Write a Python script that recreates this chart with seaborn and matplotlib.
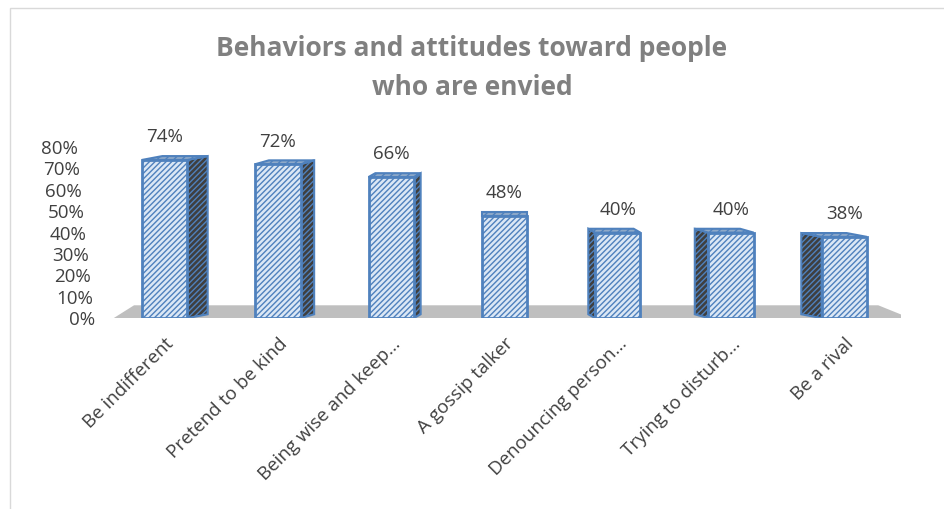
import matplotlib
matplotlib.use("Agg")
import matplotlib.pyplot as plt
import matplotlib.transforms as mtransforms
from matplotlib.patches import Polygon, Rectangle
import seaborn as sns
import pandas as pd

# data
categories = ['Be indifferent', 'Pretend to be kind', 'Being wise and keep…',
              'A gossip talker', 'Denouncing person…', 'Trying to disturb…', 'Be a rival']
shares = [0.74, 0.72, 0.66, 0.48, 0.40, 0.40, 0.38]
yticks = [0, 0.1, 0.2, 0.3, 0.4, 0.5, 0.6, 0.7, 0.8]
ytick_labels = ['0%', '10%', '20%', '30%', '40%', '50%', '60%', '70%', '80%']

df = pd.DataFrame({'behavior': categories, 'share': shares})

sns.set_style('white')
plt.rcParams['font.family'] = ['Open Sans', 'DejaVu Sans']
plt.rcParams['hatch.linewidth'] = 1.0

edge = '#4f81bd'
front = '#dbe7f5'
side = '#3f3f3f'

fig = plt.figure(figsize=(9.44, 5.09), dpi=100)
# light frame around the chart area
fig.patches.append(Rectangle((0.011, -0.05), 1.2, 1.034, transform=fig.transFigure,
                             fill=False, edgecolor='#d9d9d9', linewidth=1.0))
ax = fig.add_axes([0.1144, 0.375, 0.840, 0.336])

# floor of the 3d look
floor = Polygon([(-0.45, 0), (-0.27, 0.06), (6.3, 0.06), (6.58, 0)], closed=True,
                facecolor='#bfbfbf', edgecolor='none', zorder=0)
ax.add_patch(floor)

sns.barplot(data=df, x='behavior', y='share', color=front, width=0.4,
            saturation=1, ax=ax, zorder=3)

bars = [p for p in ax.patches if isinstance(p, Rectangle)]
mid = (len(shares) - 1) / 2
for i, p in enumerate(bars):
    p.set_hatch('//////')
    p.set_edgecolor(edge)
    p.set_linewidth(2)
    x0 = p.get_x()
    x1 = x0 + p.get_width()
    h = p.get_height()
    dx = 0.06 * (mid - i)
    dy = 0.018
    # side face
    if dx > 0:
        pts = [(x1, 0), (x1 + dx, dy), (x1 + dx, h + dy), (x1, h)]
    elif dx < 0:
        pts = [(x0, 0), (x0 + dx, dy), (x0 + dx, h + dy), (x0, h)]
    else:
        pts = None
    if pts is not None:
        ax.add_patch(Polygon(pts, closed=True, facecolor=side, edgecolor=edge,
                             hatch='//////', linewidth=1.5, zorder=2))
    # top face
    top = [(x0, h), (x1, h), (x1 + dx, h + dy), (x0 + dx, h + dy)]
    ax.add_patch(Polygon(top, closed=True, facecolor='#8ea9c9', edgecolor=edge,
                         hatch='////', linewidth=1.5, zorder=2))
    ax.annotate(f'{int(round(h * 100))}%', (x0 + p.get_width() / 2, h + dy),
                xytext=(0, 7), textcoords='offset points', ha='center', va='bottom',
                fontsize=13.5, color='#404040', annotation_clip=False)

ax.set_xlim(-0.5, 6.5)
ax.set_ylim(0, 0.8)
ax.set_yticks(yticks)
ax.set_yticklabels(ytick_labels, fontsize=13.5, color='#404040')
ax.set_xlabel('')
ax.set_ylabel('')
ax.tick_params(axis='both', length=0)
ax.tick_params(axis='y', pad=9)
ax.tick_params(axis='x', pad=12)
plt.setp(ax.get_xticklabels(), rotation=45, ha='right', rotation_mode='anchor',
         fontsize=13.5, color='#404040')
sns.despine(ax=ax, left=True, bottom=True)
ax.patch.set_alpha(0)

# the 3d wall makes the y labels lean: each higher label sits a bit more to the left
for k, tick in enumerate(ax.yaxis.get_major_ticks()):
    shift = mtransforms.ScaledTranslation(-k * 2.25 / 100, 0, fig.dpi_scale_trans)
    tick.label1.set_transform(tick.label1.get_transform() + shift)

fig.text(0.5, 0.866, 'Behaviors and attitudes toward people\nwho are envied',
         ha='center', va='center', fontsize=19, fontweight='bold', color='#808080',
         linespacing=1.55)

fig.savefig('out.png', dpi=100)
